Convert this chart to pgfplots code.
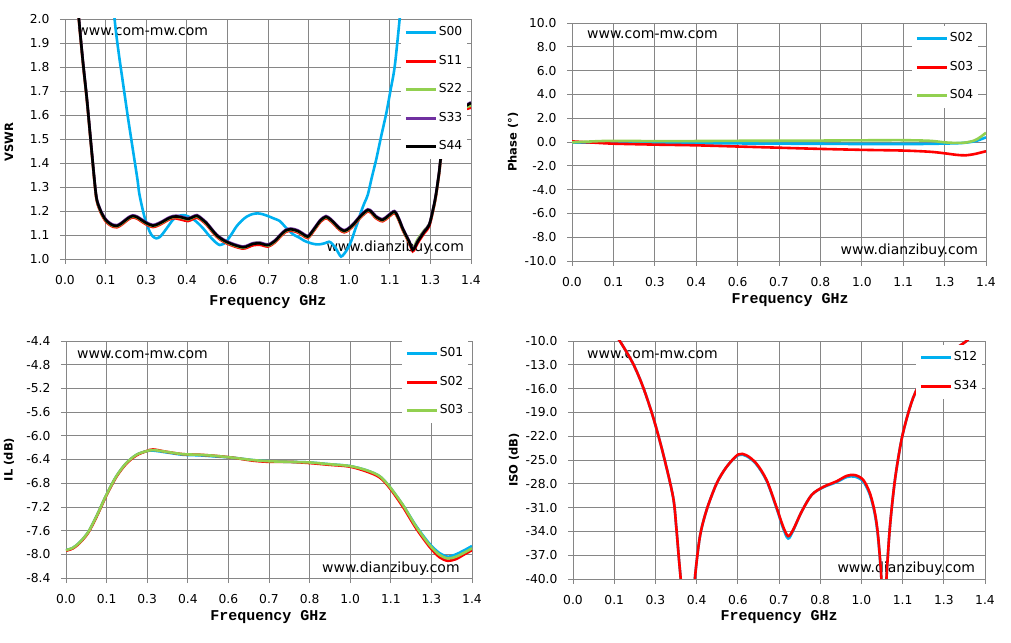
\documentclass[border=0pt]{standalone}
\usepackage{pgfplots}
\usepackage{pgfplotstable}
\pgfplotsset{compat=1.18}
\usepackage{fontspec}
\setmainfont{DejaVu Sans}
\newfontfamily\monob{Liberation Mono}
\definecolor{gridc}{RGB}{134,134,134}
\definecolor{cblue}{RGB}{0,176,240}
\definecolor{cred}{RGB}{255,0,0}
\definecolor{cgreen}{RGB}{146,208,80}
\definecolor{cpurple}{RGB}{112,48,160}

\pgfplotstableread{
x s44 s11 s22 s33
0.020 2.600 2.594 2.598 2.603
0.035 2.200 2.194 2.198 2.203
0.048 2.000 1.994 1.998 2.003
0.062 1.820 1.814 1.818 1.823
0.076 1.660 1.654 1.658 1.663
0.092 1.450 1.444 1.448 1.453
0.107 1.267 1.261 1.265 1.270
0.118 1.215 1.209 1.213 1.218
0.130 1.183 1.177 1.181 1.186
0.141 1.162 1.156 1.160 1.165
0.153 1.149 1.143 1.147 1.152
0.166 1.140 1.134 1.138 1.143
0.179 1.138 1.132 1.136 1.141
0.192 1.146 1.140 1.144 1.149
0.205 1.158 1.152 1.156 1.161
0.220 1.172 1.166 1.170 1.175
0.234 1.179 1.173 1.177 1.182
0.249 1.174 1.168 1.172 1.177
0.263 1.163 1.157 1.161 1.166
0.283 1.148 1.142 1.146 1.151
0.303 1.139 1.133 1.137 1.142
0.320 1.145 1.139 1.143 1.148
0.338 1.156 1.150 1.154 1.159
0.355 1.168 1.162 1.166 1.171
0.372 1.176 1.170 1.174 1.179
0.387 1.177 1.168 1.175 1.180
0.401 1.174 1.164 1.172 1.177
0.424 1.167 1.158 1.165 1.170
0.440 1.174 1.166 1.172 1.177
0.455 1.180 1.172 1.178 1.183
0.470 1.168 1.162 1.166 1.171
0.488 1.149 1.143 1.147 1.152
0.505 1.124 1.118 1.122 1.127
0.522 1.100 1.094 1.098 1.103
0.539 1.084 1.078 1.082 1.087
0.556 1.072 1.066 1.070 1.075
0.585 1.058 1.052 1.056 1.061
0.614 1.049 1.043 1.047 1.052
0.632 1.055 1.049 1.055 1.058
0.648 1.063 1.057 1.065 1.066
0.672 1.065 1.059 1.068 1.068
0.700 1.058 1.052 1.056 1.061
0.724 1.075 1.069 1.073 1.078
0.741 1.097 1.091 1.095 1.100
0.760 1.118 1.112 1.116 1.121
0.779 1.124 1.118 1.122 1.127
0.802 1.117 1.111 1.115 1.120
0.820 1.104 1.098 1.102 1.107
0.837 1.093 1.087 1.091 1.096
0.850 1.110 1.104 1.108 1.113
0.865 1.135 1.129 1.133 1.138
0.882 1.162 1.156 1.160 1.165
0.900 1.176 1.170 1.174 1.179
0.915 1.165 1.159 1.163 1.168
0.929 1.149 1.143 1.147 1.152
0.946 1.128 1.122 1.126 1.131
0.963 1.117 1.111 1.115 1.120
0.980 1.128 1.122 1.126 1.131
0.998 1.149 1.143 1.147 1.152
1.020 1.180 1.174 1.178 1.183
1.044 1.204 1.198 1.202 1.207
1.058 1.195 1.189 1.193 1.198
1.072 1.176 1.170 1.174 1.179
1.095 1.163 1.157 1.161 1.166
1.115 1.180 1.174 1.178 1.183
1.136 1.197 1.191 1.195 1.200
1.150 1.170 1.164 1.168 1.173
1.164 1.128 1.122 1.126 1.131
1.176 1.098 1.092 1.096 1.101
1.187 1.072 1.066 1.070 1.075
1.199 1.038 1.032 1.042 1.041
1.208 1.052 1.046 1.062 1.055
1.216 1.072 1.066 1.082 1.075
1.239 1.114 1.108 1.120 1.117
1.256 1.142 1.136 1.145 1.145
1.270 1.211 1.205 1.209 1.214
1.279 1.267 1.261 1.265 1.270
1.290 1.360 1.354 1.358 1.363
1.297 1.430 1.424 1.428 1.433
1.315 1.520 1.514 1.518 1.523
1.335 1.580 1.574 1.578 1.583
1.360 1.620 1.614 1.618 1.623
1.400 1.650 1.630 1.640 1.653
}\vswr

\pgfplotstableread{
x s00
0.150 2.300
0.171 2.000
0.185 1.860
0.200 1.733
0.217 1.590
0.234 1.456
0.250 1.330
0.257 1.267
0.274 1.176
0.292 1.114
0.303 1.094
0.315 1.086
0.327 1.092
0.338 1.107
0.355 1.135
0.372 1.163
0.390 1.178
0.407 1.183
0.424 1.178
0.441 1.167
0.458 1.150
0.476 1.128
0.493 1.103
0.511 1.079
0.523 1.066
0.534 1.058
0.545 1.062
0.556 1.072
0.574 1.103
0.591 1.135
0.608 1.158
0.626 1.176
0.646 1.187
0.666 1.190
0.686 1.185
0.706 1.176
0.722 1.168
0.741 1.158
0.757 1.137
0.773 1.117
0.790 1.100
0.808 1.089
0.825 1.076
0.842 1.068
0.860 1.062
0.877 1.061
0.894 1.065
0.911 1.072
0.922 1.062
0.934 1.044
0.943 1.025
0.952 1.010
0.963 1.022
0.975 1.044
0.987 1.075
0.998 1.114
1.010 1.155
1.021 1.197
1.033 1.235
1.044 1.267
1.058 1.340
1.073 1.414
1.090 1.510
1.108 1.608
1.122 1.700
1.137 1.803
1.154 2.000
1.170 2.200
}\vswrb

\pgfplotstableread{
x s02 s03 s04
0.00 -0.05 0.05 -0.03
0.07 -0.04 -0.05 0.05
0.14 -0.05 -0.14 0.10
0.28 -0.08 -0.22 0.07
0.42 -0.10 -0.28 0.08
0.56 -0.12 -0.38 0.10
0.70 -0.14 -0.48 0.11
0.84 -0.15 -0.58 0.12
0.98 -0.17 -0.66 0.14
1.12 -0.17 -0.72 0.15
1.21 -0.16 -0.82 0.10
1.26 -0.13 -0.95 -0.03
1.30 -0.11 -1.08 -0.08
1.33 -0.06 -1.12 -0.05
1.36 0.05 -1.02 0.12
1.38 0.20 -0.90 0.40
1.40 0.39 -0.78 0.78
}\phase

\pgfplotstableread{
x s01 s02 s03
0.000 -7.93 -7.94 -7.93
0.024 -7.89 -7.90 -7.89
0.047 -7.80 -7.81 -7.80
0.076 -7.63 -7.64 -7.63
0.105 -7.36 -7.37 -7.36
0.139 -7.00 -7.01 -7.00
0.174 -6.68 -6.69 -6.68
0.208 -6.46 -6.47 -6.46
0.243 -6.32 -6.33 -6.32
0.277 -6.26 -6.26 -6.26
0.300 -6.25 -6.23 -6.24
0.346 -6.28 -6.27 -6.27
0.403 -6.32 -6.31 -6.31
0.461 -6.33 -6.32 -6.32
0.518 -6.35 -6.34 -6.34
0.576 -6.37 -6.37 -6.37
0.645 -6.41 -6.42 -6.41
0.702 -6.43 -6.44 -6.43
0.771 -6.44 -6.44 -6.44
0.840 -6.45 -6.46 -6.45
0.909 -6.48 -6.49 -6.48
0.978 -6.51 -6.52 -6.51
1.035 -6.58 -6.60 -6.58
1.081 -6.68 -6.70 -6.68
1.116 -6.86 -6.88 -6.86
1.162 -7.17 -7.20 -7.17
1.207 -7.52 -7.56 -7.53
1.253 -7.82 -7.87 -7.84
1.288 -7.98 -8.05 -8.01
1.317 -8.04 -8.11 -8.07
1.345 -8.00 -8.08 -8.04
1.374 -7.93 -8.00 -7.97
1.400 -7.86 -7.93 -7.90
}\il

\pgfplotstableread{
x s12 s34
0.120 -8.00 -8.00
0.159 -10.00 -10.00
0.204 -12.85 -12.85
0.238 -15.80 -15.80
0.272 -19.57 -19.57
0.306 -24.18 -24.18
0.340 -29.64 -29.64
0.351 -33.50 -33.50
0.360 -37.50 -37.50
0.366 -40.00 -40.00
0.372 -43.00 -43.00
0.390 -60.00 -60.00
0.408 -44.00 -44.00
0.414 -40.00 -40.00
0.431 -34.70 -34.70
0.454 -31.30 -31.30
0.488 -27.96 -27.96
0.522 -25.86 -25.86
0.561 -24.40 -24.31
0.589 -24.50 -24.40
0.623 -25.54 -25.44
0.658 -27.64 -27.54
0.691 -31.00 -30.90
0.714 -33.60 -33.40
0.731 -34.90 -34.60
0.748 -33.90 -33.80
0.777 -31.50 -31.50
0.811 -29.40 -29.40
0.850 -28.45 -28.40
0.895 -27.80 -27.70
0.930 -27.15 -27.00
0.958 -27.10 -26.90
0.986 -27.70 -27.50
1.009 -29.40 -29.20
1.026 -31.90 -31.70
1.037 -34.90 -34.70
1.048 -40.00 -40.00
1.052 -44.00 -44.00
1.057 -60.00 -60.00
1.061 -44.00 -44.00
1.065 -40.00 -40.00
1.077 -33.40 -33.40
1.094 -27.50 -27.50
1.116 -22.50 -22.50
1.139 -19.10 -19.10
1.162 -16.60 -16.60
1.200 -14.00 -14.00
1.260 -12.00 -12.00
1.337 -10.00 -10.00
1.360 -9.00 -9.00
}\iso

\tikzset{wm/.style={font=\fontsize{14}{16}\selectfont, inner sep=0pt}}

\pgfplotsset{
  panel/.style={
    scale only axis,
    xmin=0, xmax=1.4,
    xtick={0,0.14,0.28,0.42,0.56,0.7,0.84,0.98,1.12,1.26,1.4},
    xticklabels={0.0,0.1,0.3,0.4,0.6,0.7,0.8,1.0,1.1,1.3,1.4},
    xtick pos=bottom, ytick pos=left,
    grid=major,
    major grid style={gridc, line width=0.8pt},
    axis line style={gridc, line width=0.8pt},
    tick style={gridc, line width=0.8pt},
    tick align=outside,
    major tick length=5pt,
    ticklabel style={font=\fontsize{12.3}{14}\selectfont},
    /pgf/number format/assume math mode=true,
    yticklabel style={xshift=-7pt,/pgf/number format/fixed,/pgf/number format/fixed zerofill,/pgf/number format/precision=1},
    xticklabel style={yshift=-8pt},
    xlabel={\monob\bfseries Frequency GHz},
    xlabel style={font=\fontsize{15}{17}\selectfont, anchor=center},
    ylabel style={font=\bfseries\fontsize{11.5}{13}\selectfont, anchor=center},
    legend cell align=left,
    legend image code/.code={\draw[#1, line width=3pt] (0pt,0pt) -- (30pt,0pt);},
    legend style={anchor=north east, draw=none, fill=white, inner xsep=3pt, inner ysep=5pt,
      font=\fontsize{12.3}{14}\selectfont, row sep=13.5pt,
      nodes={inner sep=1.5pt, text height=9pt, text depth=3pt}},
    every axis plot/.append style={line width=2.6pt, smooth},
  },
}

\begin{document}
\begin{tikzpicture}
\useasboundingbox (0,0) rectangle (1011pt,642pt);

% top-left VSWR
\begin{axis}[panel, at={(65pt,383pt)}, anchor=south west, width=406pt, height=240pt,
  ymin=1, ymax=2, ytick={1.0,1.1,1.2,1.3,1.4,1.5,1.6,1.7,1.8,1.9,2.0},
  ylabel={VSWR},
  ylabel style={at={([xshift=-56pt,yshift=-3pt]axis description cs:0,0.5)}},
  xlabel style={at={([yshift=-43pt]axis description cs:0.5,0)}},
  legend style={at={([xshift=-4pt,yshift=-1pt]rel axis cs:1,1)}}]
\node[wm, anchor=west] at (rel axis cs:0.030,0.946) {www.com-mw.com};
\node[wm, anchor=east] at (rel axis cs:0.983,0.046) {www.dianzibuy.com};
\addplot[cblue] table[x=x,y=s00] {\vswrb};
\addplot[cred] table[x=x,y=s11] {\vswr};
\addplot[cgreen] table[x=x,y=s22] {\vswr};
\addplot[cpurple] table[x=x,y=s33] {\vswr};
\addplot[black] table[x=x,y=s44] {\vswr};
\legend{S00,S11,S22,S33,S44}
\end{axis}

% top-right Phase
\begin{axis}[panel, at={(572pt,381pt)}, anchor=south west, width=414pt, height=238pt,
  ymin=-10, ymax=10, ytick={-10,-8,-6,-4,-2,0,2,4,6,8,10},
  ylabel={Phase (°)},
  ylabel style={at={([xshift=-59pt]axis description cs:0,0.5)}},
  xlabel style={at={([xshift=11pt,yshift=-39pt]axis description cs:0.5,0)}},
  legend style={at={([xshift=-8pt,yshift=-3pt]rel axis cs:1,1)}}]
\node[wm, anchor=west] at (rel axis cs:0.036,0.950) {www.com-mw.com};
\node[wm, anchor=east] at (rel axis cs:0.981,0.042) {www.dianzibuy.com};
\addplot[cblue] table[x=x,y=s02] {\phase};
\addplot[cred] table[x=x,y=s03] {\phase};
\addplot[cgreen] table[x=x,y=s04] {\phase};
\legend{S02,S03,S04}
\end{axis}

% bottom-left IL
\begin{axis}[panel, at={(66pt,64pt)}, anchor=south west, width=406pt, height=237pt,
  ymin=-8.4, ymax=-4.4, ytick={-8.4,-8.0,-7.6,-7.2,-6.8,-6.4,-6.0,-5.6,-5.2,-4.8,-4.4},
  ylabel={IL (dB)},
  ylabel style={at={([xshift=-57pt]axis description cs:0,0.5)}},
  xlabel style={at={([yshift=-39pt]axis description cs:0.5,0)}},
  legend style={at={([xshift=-4pt,yshift=0pt]rel axis cs:1,1)}}]
\node[wm, anchor=west] at (rel axis cs:0.027,0.941) {www.com-mw.com};
\node[wm, anchor=east] at (rel axis cs:0.970,0.038) {www.dianzibuy.com};
\addplot[cblue] table[x=x,y=s01] {\il};
\addplot[cred] table[x=x,y=s02] {\il};
\addplot[cgreen] table[x=x,y=s03] {\il};
\legend{S01,S02,S03}
\end{axis}

% bottom-right ISO
\begin{axis}[panel, at={(573pt,63pt)}, anchor=south west, width=412pt, height=238pt,
  ymin=-40, ymax=-10, ytick={-40,-37,-34,-31,-28,-25,-22,-19,-16,-13,-10},
  ylabel={ISO (dB)},
  ylabel style={at={([xshift=-59pt]axis description cs:0,0.5)}},
  xlabel style={at={([yshift=-38pt]axis description cs:0.5,0)}},
  legend style={at={([xshift=-3pt,yshift=-4pt]rel axis cs:1,1)}}]
\node[wm, anchor=west] at (rel axis cs:0.034,0.941) {www.com-mw.com};
\node[wm, anchor=east] at (rel axis cs:0.976,0.042) {www.dianzibuy.com};
\addplot[cblue] table[x=x,y=s12] {\iso};
\addplot[cred] table[x=x,y=s34] {\iso};
\legend{S12,S34}
\end{axis}
\end{tikzpicture}
\end{document}
